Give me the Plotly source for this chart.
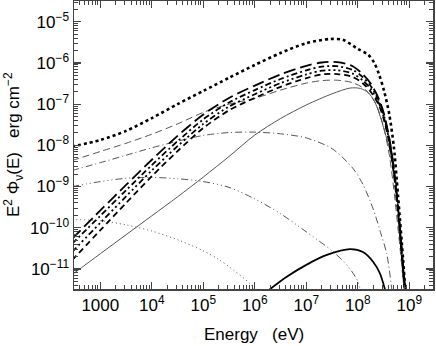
import plotly.graph_objects as go

# ---- data (log10 of energy in eV, log10 of E^2 Phi in erg cm^-2) ----
total_logE = [2.45, 3.00, 3.50, 4.00, 4.50, 5.00, 5.50, 6.00, 6.50, 7.00, 7.46, 7.71,
              8.00, 8.20, 8.32, 8.41, 8.51, 8.61, 8.70, 8.78, 8.88, 8.93]
total_logF = [-8.03, -7.87, -7.65, -7.34, -7.00, -6.68, -6.36, -6.05, -5.76, -5.52, -5.42, -5.44,
              -5.66, -5.80, -6.00, -6.27, -6.68, -7.24, -8.04, -9.21, -10.78, -11.7]

bundle_logE = [2.45, 3.0, 3.5, 4.0, 4.5, 5.0, 5.5, 6.0, 6.5, 7.0, 7.3, 7.6, 7.9, 8.1,
               8.25, 8.4, 8.5, 8.6, 8.7, 8.8, 8.9, 8.95]
bundle_a_logF = [-10.27, -9.58, -8.96, -8.35, -7.77, -7.25, -6.85, -6.55, -6.28, -6.07, -5.99, -5.98,
                 -6.08, -6.28, -6.50, -6.85, -7.20, -7.75, -8.55, -9.75, -11.2, -11.8]
bundle_b_logF = [-10.39, -9.71, -9.09, -8.48, -7.90, -7.37, -6.96, -6.66, -6.39, -6.18, -6.09, -6.08,
                 -6.17, -6.35, -6.56, -6.90, -7.25, -7.78, -8.58, -9.78, -11.25, -11.8]
bundle_c_logF = [-10.59, -9.88, -9.24, -8.61, -8.02, -7.48, -7.06, -6.76, -6.49, -6.28, -6.19, -6.18,
                 -6.26, -6.43, -6.63, -6.95, -7.30, -7.82, -8.62, -9.82, -11.3, -11.9]
bundle_d_logF = [-10.79, -10.06, -9.40, -8.75, -8.14, -7.58, -7.15, -6.85, -6.58, -6.37, -6.28, -6.27,
                 -6.34, -6.50, -6.70, -7.00, -7.35, -7.88, -8.70, -9.90, -11.35, -11.9]

gdash_logE = [2.45, 3.0, 3.5, 4.0, 4.5, 5.0, 5.5, 6.0, 6.5, 7.0, 7.3, 7.6, 7.9, 8.15,
              8.35, 8.5, 8.62, 8.72, 8.82, 8.92]
gdash_logF = [-8.37, -8.15, -7.95, -7.73, -7.48, -7.20, -7.00, -6.86, -6.66, -6.49, -6.43, -6.42,
              -6.48, -6.65, -7.00, -7.55, -8.30, -9.30, -10.5, -11.8]

gdashdot_logE = [2.45, 3.0, 3.5, 4.0, 4.5, 5.0, 5.5, 6.0, 6.5, 7.0, 7.5, 7.9, 8.1, 8.3,
                 8.45, 8.56, 8.68]
gdashdot_logF = [-8.61, -8.42, -8.24, -8.06, -7.90, -7.76, -7.69, -7.68, -7.72, -7.82, -8.08, -8.55,
                 -8.95, -9.55, -10.15, -10.62, -11.7]

gddd_logE = [2.45, 3.0, 3.5, 4.0, 4.5, 5.0, 5.5, 6.0, 6.5, 7.0, 7.5, 7.8, 8.0, 8.06]
gddd_logF = [-9.00, -8.88, -8.80, -8.78, -8.81, -8.88, -9.02, -9.30, -9.66, -10.10, -10.56, -10.92,
             -11.30, -11.6]

gdot_logE = [2.45, 3.0, 3.5, 4.0, 4.5, 5.0, 5.3, 5.6, 5.9, 6.06]
gdot_logF = [-9.80, -9.83, -9.93, -10.08, -10.29, -10.56, -10.77, -11.04, -11.35, -11.6]

gsolid_logE = [2.45, 3.0, 3.5, 4.0, 4.5, 5.0, 5.5, 6.0, 6.5, 7.0, 7.5, 7.85, 8.05, 8.2,
               8.32, 8.42, 8.52, 8.62, 8.72, 8.80, 8.88, 8.93]
gsolid_logF = [-11.14, -10.63, -10.17, -9.71, -9.25, -8.77, -8.27, -7.75, -7.35, -7.02, -6.75, -6.61,
               -6.62, -6.72, -6.92, -7.24, -7.66, -8.10, -8.80, -9.80, -11.2, -11.8]

bsolid_logE = [6.18, 6.62, 7.00, 7.40, 7.85, 8.10, 8.30, 8.43, 8.55]
bsolid_logF = [-11.6, -11.19, -10.90, -10.66, -10.52, -10.59, -10.83, -11.11, -11.6]

x_tick_vals = [1e3, 1e4, 1e5, 1e6, 1e7, 1e8, 1e9]
x_tick_text = ["1000", "10<sup>4</sup>", "10<sup>5</sup>", "10<sup>6</sup>",
               "10<sup>7</sup>", "10<sup>8</sup>", "10<sup>9</sup>"]
y_tick_vals = [1e-11, 1e-10, 1e-9, 1e-8, 1e-7, 1e-6, 1e-5]
y_tick_text = ["10<sup>\u221211</sup>", "10<sup>\u221210</sup>", "10<sup>\u22129</sup>",
               "10<sup>\u22128</sup>", "10<sup>\u22127</sup>", "10<sup>\u22126</sup>",
               "10<sup>\u22125</sup>"]


def lin(v):
    return [10 ** a for a in v]


GRAY = "#555555"
BLACK = "#000000"

series = [
    (gdot_logE, gdot_logF, GRAY, 1, "1px,3px"),
    (gddd_logE, gddd_logF, GRAY, 1, "7px,3px,1px,3px,1px,3px,1px,3px"),
    (gdashdot_logE, gdashdot_logF, GRAY, 1, "7px,3px,1px,3px"),
    (gdash_logE, gdash_logF, GRAY, 1, "7px,4px"),
    (gsolid_logE, gsolid_logF, GRAY, 1, None),
    (bundle_logE, bundle_d_logF, BLACK, 1.8, "6px,4px"),
    (bundle_logE, bundle_c_logF, BLACK, 1.8, "6px,3px,2px,3px,2px,3px,2px,3px"),
    (bundle_logE, bundle_b_logF, BLACK, 1.8, "6px,3px,2px,3px"),
    (bundle_logE, bundle_a_logF, BLACK, 1.8, "12px,5px"),
    (bsolid_logE, bsolid_logF, BLACK, 1.8, None),
    (total_logE, total_logF, BLACK, 2.6, "3px,3px"),
]

fig = go.Figure()
for xs, ys, col, w, dash in series:
    line = dict(color=col, width=w, shape="spline", smoothing=0.8)
    if dash:
        line["dash"] = dash
    fig.add_trace(go.Scatter(x=lin(xs), y=lin(ys), mode="lines", line=line,
                             hoverinfo="skip", showlegend=False))

FONT = "Liberation Sans, Arial, sans-serif"
axis_common = dict(
    type="log",
    automargin=False,
    showgrid=False,
    zeroline=False,
    showline=True,
    linecolor="#444444",
    linewidth=1.5,
    mirror="allticks",
    ticks="inside",
    ticklen=7,
    tickwidth=1.2,
    tickcolor="#444444",
    tickfont=dict(family=FONT, size=17, color="#000000"),
    minor=dict(ticks="inside", ticklen=4, tickwidth=1, tickcolor="#444444",
               dtick="D1", showgrid=False),
)

fig.update_xaxes(range=[2.489, 9.46], tickmode="array", tickvals=x_tick_vals,
                 ticktext=x_tick_text, **axis_common)
fig.update_yaxes(range=[-11.486, -4.498], tickmode="array", tickvals=y_tick_vals,
                 ticktext=y_tick_text, **axis_common)

fig.add_annotation(text="Energy\u00a0\u00a0\u00a0(eV)", xref="paper", yref="paper",
                   x=(254.5 - 74) / 359, y=(289 - 334) / 288, xanchor="center", yanchor="middle",
                   showarrow=False, font=dict(family=FONT, size=17, color="#000000"))
fig.add_annotation(text="E<sup>2</sup> \u03a6<sub>\u03bd</sub>(E)\u00a0\u00a0\u00a0erg cm<sup>\u22122</sup>",
                   xref="paper", yref="paper", x=(13 - 74) / 359, y=(289 - 145) / 288,
                   xanchor="center", yanchor="middle", textangle=-90,
                   showarrow=False, font=dict(family=FONT, size=17, color="#000000"))

fig.update_layout(
    width=436, height=346,
    margin=dict(l=74, r=3, t=1, b=57, autoexpand=False),
    paper_bgcolor="white", plot_bgcolor="white",
)

fig.write_html("out.html",
               config={"displayModeBar": False, "staticPlot": True},
               post_script="document.body.style.margin='0';document.body.style.overflow='hidden';")
